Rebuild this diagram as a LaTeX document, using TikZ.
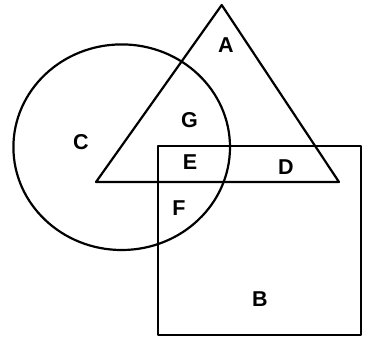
\documentclass[tikz,border=0pt]{standalone}
\usepackage{fontspec}
\setmainfont{Liberation Sans}
\begin{document}
\begin{tikzpicture}[x=1pt,y=-1pt,
  shape line/.style={draw=black,line width=2.2pt,line join=round},
  lbl/.style={font=\bfseries\fontsize{21.5}{21.5}\selectfont,inner sep=0pt}]
\useasboundingbox (0,0) rectangle (366,338);
\fill[white] (0,0) rectangle (366,338);
\coordinate (t1) at (221.7,5);
\coordinate (t2) at (96,182);
\coordinate (t3) at (339,182);
\draw[shape line] (t1) -- (t2) -- (t3) -- cycle;
\draw[shape line] (158,146) rectangle (361,335);
\draw[shape line] (121.7,147.2) ellipse [x radius=108.3, y radius=102.8];
\node[lbl] (A) at (226,45) {A};
\node[lbl] (G) at (189.5,120.5) {G};
\node[lbl] (C) at (81,142) {C};
\node[lbl] (E) at (190,162) {E};
\node[lbl] (D) at (286,167) {D};
\node[lbl] (F) at (179,208) {F};
\node[lbl] (B) at (260,299.5) {B};
\end{tikzpicture}
\end{document}
